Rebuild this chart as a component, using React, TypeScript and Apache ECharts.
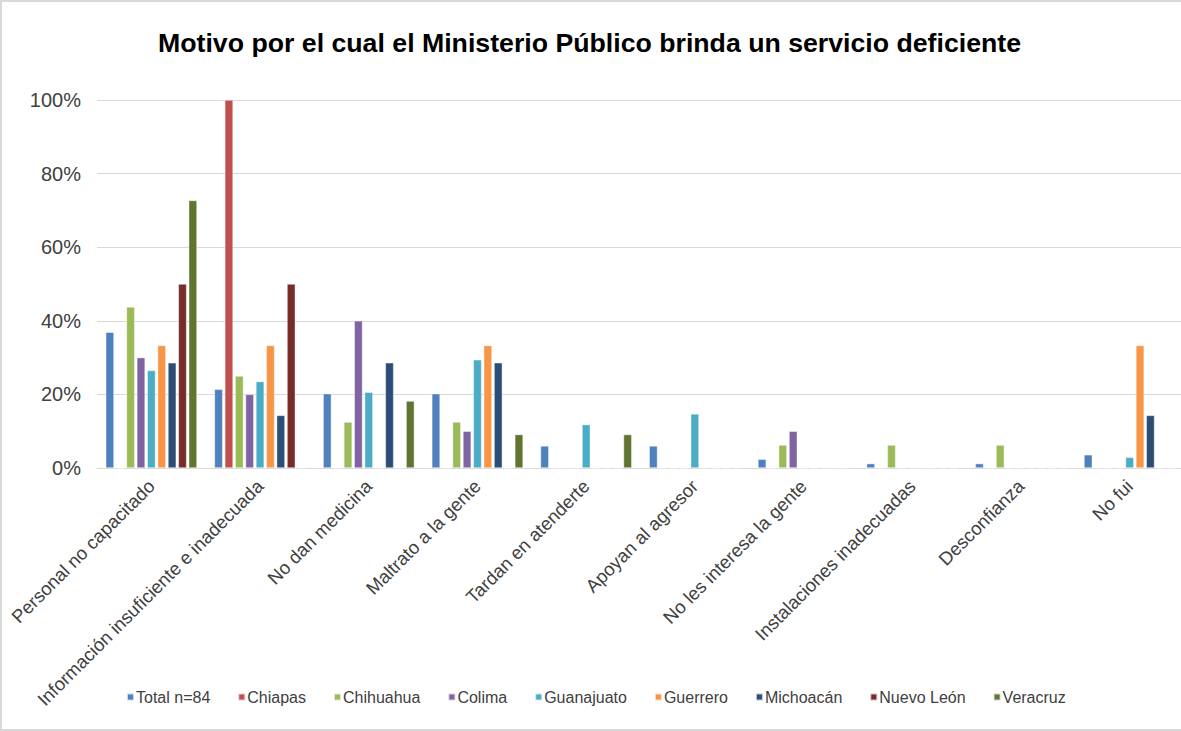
import React, { useEffect, useRef } from "react";
import * as echarts from "echarts";

const categories = [
  "Personal no capacitado",
  "Información insuficiente e inadecuada",
  "No dan medicina",
  "Maltrato a la gente",
  "Tardan en atenderte",
  "Apoyan al agresor",
  "No les interesa la gente",
  "Instalaciones inadecuadas",
  "Desconfianza",
  "No fui",
];

const seriesNames = [
  "Total n=84",
  "Chiapas",
  "Chihuahua",
  "Colima",
  "Guanajuato",
  "Guerrero",
  "Michoacán",
  "Nuevo León",
  "Veracruz",
];

const total = [36.9, 21.4, 20.2, 20.2, 6.0, 6.0, 2.4, 1.2, 1.2, 3.6];
const chiapas = [0, 100, 0, 0, 0, 0, 0, 0, 0, 0];
const chihuahua = [43.75, 25, 12.5, 12.5, 0, 0, 6.25, 6.25, 6.25, 0];
const colima = [30, 20, 40, 10, 0, 0, 10, 0, 0, 0];
const guanajuato = [26.5, 23.5, 20.6, 29.4, 11.8, 14.7, 0, 0, 0, 2.9];
const guerrero = [33.3, 33.3, 0, 33.3, 0, 0, 0, 0, 0, 33.3];
const michoacan = [28.6, 14.3, 28.6, 28.6, 0, 0, 0, 0, 0, 14.3];
const nuevoLeon = [50, 50, 0, 0, 0, 0, 0, 0, 0, 0];
const veracruz = [72.7, 0, 18.2, 9.1, 9.1, 0, 0, 0, 0, 0];

const seriesData = [total, chiapas, chihuahua, colima, guanajuato, guerrero, michoacan, nuevoLeon, veracruz];

const colors = ["#4F81BD", "#C0504D", "#9BBB59", "#8064A2", "#4BACC6", "#F79646", "#2C4D75", "#772C2A", "#5F7530"];

const yTicks = [0, 20, 40, 60, 80, 100];

export default function App() {
  const ref = useRef<HTMLDivElement>(null);
  useEffect(() => {
    if (!ref.current) return;
    const chart = echarts.init(ref.current, null, { renderer: "svg" });
    const font = "'Liberation Sans', Arial, sans-serif";
    chart.setOption({
      animation: false,
      color: colors,
      title: {
        text: "Motivo por el cual el Ministerio Público brinda un servicio deficiente",
        left: 151,
        top: 22,
        textStyle: { fontFamily: font, fontSize: 26.7, fontWeight: "bold", color: "#000" },
      },
      legend: {
        bottom: 19,
        left: 119,
        itemWidth: 7,
        itemHeight: 7,
        itemGap: 27,
        icon: "rect",
        textStyle: { fontFamily: font, fontSize: 16, color: "#404040", padding: [0, 0, 0, -3] },
        data: seriesNames,
      },
      grid: { left: 95, right: 18, top: 98, bottom: 261 },
      xAxis: {
        type: "category",
        data: categories,
        axisLine: { lineStyle: { color: "#D9D9D9", width: 1 } },
        axisTick: { show: false },
        axisLabel: {
          rotate: 45,
          interval: 0,
          fontFamily: font,
          fontSize: 18.5,
          color: "#404040",
          margin: 15,
        },
      },
      yAxis: {
        type: "value",
        min: 0,
        max: 100,
        interval: 20,
        axisLine: { show: false },
        axisTick: { show: false },
        splitLine: { lineStyle: { color: "#D9D9D9", width: 1 } },
        axisLabel: {
          formatter: (v: number) => (yTicks.includes(v) ? v + "%" : ""),
          fontFamily: font,
          fontSize: 20,
          color: "#404040",
          margin: 16,
        },
      },
      series: seriesNames.map((name, i) => ({
        name,
        type: "bar",
        data: seriesData[i],
        barCategoryGap: "16%",
        barGap: "25%",
        itemStyle: { color: colors[i], borderColor: "rgba(255,255,255,0.7)", borderWidth: 0.6 },
      })),
    });
    return () => chart.dispose();
  }, []);
  return (
    <div
      style={{
        position: "absolute",
        left: 0,
        top: 0,
        width: 1181,
        height: 731,
        boxSizing: "border-box",
        borderLeft: "2px solid #D9D9D9",
        borderTop: "2px solid #D9D9D9",
        borderBottom: "2px solid #D9D9D9",
        background: "#fff",
        overflow: "hidden",
      }}
    >
      <div ref={ref} style={{ width: 1200, height: 727 }} />
    </div>
  );
}
